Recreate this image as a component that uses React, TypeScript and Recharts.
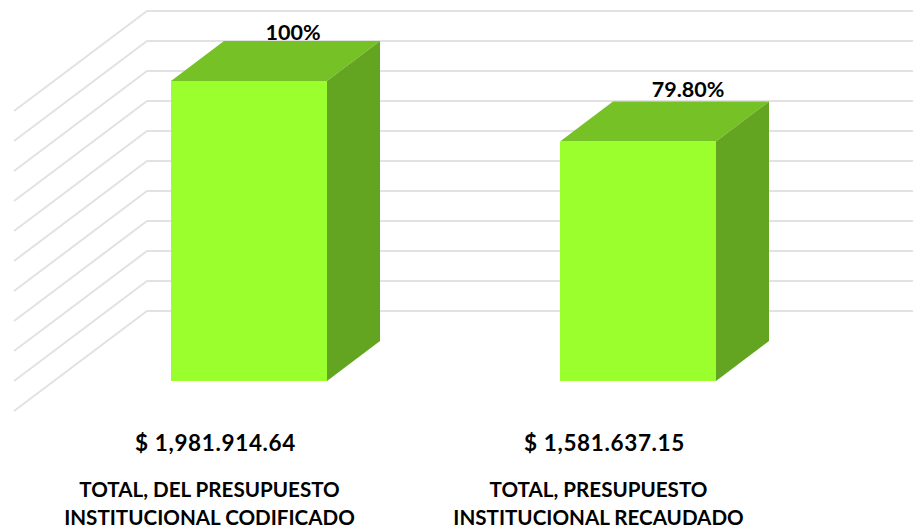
import React from "react";
import { BarChart, Bar, XAxis, YAxis, CartesianGrid, LabelList } from "recharts";

const categories = ["TOTAL, DEL PRESUPUESTO|INSTITUCIONAL CODIFICADO", "TOTAL, PRESUPUESTO|INSTITUCIONAL RECAUDADO"];
const percents = [100, 79.8];
const percentLabels = ["100%", "79.80%"];
const amounts = ["$ 1,981.914.64", "$ 1,581.637.15"];
const yTicks = [0, 10, 20, 30, 40, 50, 60, 70, 80, 90, 100];

const data = categories.map((c, i) => ({ name: c, pct: percents[i], label: percentLabels[i], amount: amounts[i] }));

const FONT = "Lato, 'Open Sans', sans-serif";
const DX = 53;
const DY = 40;

function Bar3D(props: any) {
  const { x, y, width, height } = props;
  const r = x + width;
  const b = y + height;
  return (
    <g>
      <polygon points={`${x},${y} ${x + DX},${y - DY} ${r + DX},${y - DY} ${r},${y}`} fill="#75C126" />
      <polygon points={`${r},${y} ${r + DX},${y - DY} ${r + DX},${b - DY} ${r},${b}`} fill="#63A420" />
      <rect x={x} y={y} width={width} height={height} fill="#9BFF2E" />
    </g>
  );
}

function GridLine(props: any) {
  const { y1, x1 } = props;
  return (
    <polyline
      points={`${x1 - 40},${y1 + 30} ${x1 + 93},${y1 - 70} 913,${y1 - 70}`}
      fill="none"
      stroke="#E2E2E2"
      strokeWidth={2}
    />
  );
}

function CategoryTick(props: any) {
  const { x, payload, index } = props;
  const [l1, l2] = String(payload.value).split("|");
  return (
    <g fontFamily={FONT} fontWeight={700} fill="#000" textAnchor="middle">
      <text x={x - 33} y={451} fontSize={22.5} letterSpacing={0.65}>{amounts[index]}</text>
      <text x={x - 39} y={496.5} fontSize={20.6}>{l1}</text>
      <text x={x - 39} y={524.5} fontSize={20.6}>{l2}</text>
    </g>
  );
}

function TopLabel(props: any) {
  const { x, y, width, value, index } = props;
  const cx = x + width / 2 + (index === 0 ? 44 : 50);
  const by = y - (index === 0 ? 41.5 : 44.5);
  return (
    <text x={cx} y={by} textAnchor="middle" fontFamily={FONT} fontWeight={700} fontSize={21.5} fill="#000">
      {value}
    </text>
  );
}

export default function App() {
  return (
    <div style={{ position: "absolute", left: 0, top: 0, width: 913, height: 531, background: "#fff", overflow: "hidden" }}>
      <BarChart width={913} height={531} data={data} margin={{ top: 81, right: 81, bottom: 0, left: 54 }}>
        <CartesianGrid vertical={false} horizontal={GridLine as any} horizontalValues={yTicks} />
        <XAxis dataKey="name" axisLine={false} tickLine={false} interval={0} tick={CategoryTick as any} height={150} />
        <YAxis hide domain={[0, 100]} ticks={yTicks} />
        <Bar dataKey="pct" barSize={156} isAnimationActive={false} shape={Bar3D as any}>
          <LabelList dataKey="label" content={TopLabel as any} />
        </Bar>
      </BarChart>
    </div>
  );
}
